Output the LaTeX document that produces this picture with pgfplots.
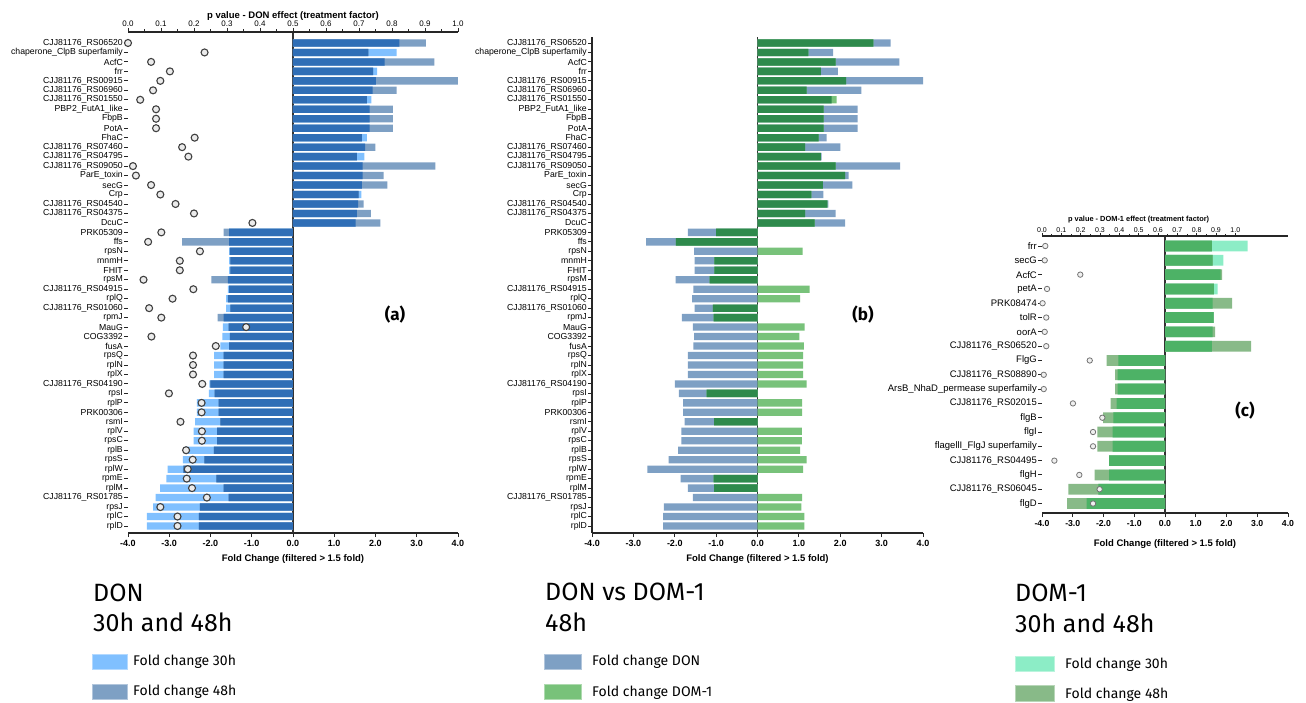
\documentclass[border=0pt]{standalone}
\usepackage{fontspec}
\setmainfont{Liberation Sans}
\newfontfamily\fira{Fira Sans}
\usepackage{pgfplots}
\usepackage{pgfplotstable}
\pgfplotsset{compat=1.18}

\definecolor{a30}{HTML}{80C0FF}
\definecolor{a48}{HTML}{7EA0C4}
\definecolor{aov}{HTML}{2F6EB6}
\definecolor{bdon}{HTML}{7EA0C4}
\definecolor{bdom}{HTML}{78C27A}
\definecolor{bov}{HTML}{2E8A4C}
\definecolor{c30}{HTML}{8CEDC6}
\definecolor{c48}{HTML}{88BA88}
\definecolor{cov}{HTML}{4DB266}

% panel (a): DON, fold change 30h / 48h, common part, p value
\pgfplotstableread{
y  c30   c48   ov    p
51  2.58  3.22  2.58 0.000
50  2.51  1.83  1.83 0.232
49  2.22  3.43  2.22 0.070
48  2.04  1.94  1.94 0.127
47  2.01  4.00  2.01 0.098
46  1.93  2.51  1.93 0.076
45  1.90  1.79  1.79 0.037
44  1.86  2.42  1.86 0.085
43  1.86  2.42  1.86 0.085
42  1.86  2.42  1.86 0.085
41  1.79  1.67  1.67 0.202
40  1.75  2.00  1.75 0.164
39  1.73  1.55  1.55 0.183
38  1.69  3.45  1.69 0.015
37  1.69  2.20  1.69 0.024
36  1.67  2.29  1.67 0.070
35  1.66  1.59  1.59 0.098
34  1.58  1.71  1.58 0.144
33  1.55  1.89  1.55 0.200
32  1.52  2.12  1.52 0.377
31 -1.55 -1.68 -1.55 0.101
30 -1.55 -2.69 -1.55 0.061
29 -1.55 -1.53 -1.53 0.218
28 -1.55 -1.52 -1.52 0.157
27 -1.55 -1.52 -1.52 0.157
26 -1.58 -1.98 -1.58 0.047
25 -1.58 -1.55 -1.55 0.198
24 -1.62 -1.58 -1.58 0.135
23 -1.62 -1.52 -1.52 0.064
22 -1.68 -1.83 -1.68 0.101
21 -1.70 -1.56 -1.56 0.358
20 -1.71 -1.53 -1.53 0.071
19 -1.76 -1.55 -1.55 0.266
18 -1.91 -1.68 -1.68 0.197
17 -1.91 -1.68 -1.68 0.197
16 -1.91 -1.68 -1.68 0.197
15 -2.03 -2.00 -2.00 0.225
14 -2.04 -1.90 -1.90 0.124
13 -2.33 -1.80 -1.80 0.223
12 -2.33 -1.80 -1.80 0.223
11 -2.37 -1.76 -1.76 0.159
10 -2.41 -1.84 -1.84 0.224
9  -2.41 -1.84 -1.84 0.224
8  -2.61 -1.92 -1.92 0.176
7  -2.67 -2.15 -2.15 0.196
6  -3.04 -2.66 -2.66 0.181
5  -3.07 -1.86 -1.86 0.178
4  -3.22 -1.68 -1.68 0.194
3  -3.33 -1.56 -1.56 0.239
2  -3.39 -2.26 -2.26 0.098
1  -3.54 -2.28 -2.28 0.150
0  -3.54 -2.28 -2.28 0.150
}\tabA

% panel (b): DON vs DOM-1 at 48h
\pgfplotstableread{
y  don   dom   ov
51  3.22  2.80  2.80
50  1.83  1.23  1.23
49  3.43  1.89  1.89
48  1.94  1.53  1.53
47  4.00  2.14  2.14
46  2.51  1.19  1.19
45  1.79  1.91  1.79
44  2.42  1.60  1.60
43  2.42  1.60  1.60
42  2.42  1.60  1.60
41  1.67  1.48  1.48
40  2.00  1.15  1.15
39  1.55  1.53  1.53
38  3.45  1.89  1.89
37  2.20  2.12  2.12
36  2.29  1.58  1.58
35  1.59  1.30  1.30
34  1.71  1.69  1.69
33  1.89  1.15  1.15
32  2.12  1.38  1.38
31 -1.68 -1.00 -1.00
30 -2.69 -1.97 -1.97
29 -1.53  1.09  0
28 -1.52 -1.04 -1.04
27 -1.52 -1.04 -1.04
26 -1.98 -1.16 -1.16
25 -1.55  1.26  0
24 -1.58  1.03  0
23 -1.52 -1.08 -1.08
22 -1.83 -1.06 -1.06
21 -1.56  1.14  0
20 -1.53  1.01  0
19 -1.55  1.12  0
18 -1.68  1.10  0
17 -1.68  1.10  0
16 -1.68  1.10  0
15 -2.00  1.19  0
14 -1.90 -1.23 -1.23
13 -1.80  1.08  0
12 -1.80  1.08  0
11 -1.76 -1.05 -1.05
10 -1.84  1.07  0
9  -1.84  1.07  0
8  -1.92  1.03  0
7  -2.15  1.19  0
6  -2.66  1.10  0
5  -1.86 -1.06 -1.06
4  -1.68 -1.05 -1.05
3  -1.56  1.08  0
2  -2.26  1.06  0
1  -2.28  1.13  0
0  -2.28  1.13  0
}\tabB

% panel (c): DOM-1, fold change 30h / 48h, common part, p value
\pgfplotstableread{
y  c30   c48   ov    p
18  2.69  1.52  1.52 0.017
17  1.90  1.55  1.55 0.014
16  1.81  1.86  1.81 0.198
15  1.71  1.59  1.59 0.026
14  1.55  2.18  1.55 0.003
13  1.59  1.58  1.58 0.022
12  1.55  1.63  1.55 0.014
11  1.52  2.80  1.52 0.022
10 -1.52 -1.90 -1.52 0.247
9  -1.54 -1.62 -1.54 0.009
8  -1.54 -1.62 -1.54 0.009
7  -1.57 -1.77 -1.57 0.160
6  -1.68 -2.01 -1.68 0.312
5  -1.70 -2.20 -1.70 0.264
4  -1.70 -2.20 -1.70 0.264
3  -1.82 -1.82 -1.82 0.064
2  -1.82 -2.29 -1.82 0.193
1  -2.17 -3.14 -2.17 0.298
0  -2.55 -3.18 -2.55 0.264
}\tabC

\pgfplotsset{
  genesAB/.style={ytick={0,...,51}, yticklabels={rplD,rplC,rpsJ,CJJ81176\_RS01785,rplM,rpmE,rplW,rpsS,rplB,rpsC,rplV,rsmI,PRK00306,rplP,rpsI,CJJ81176\_RS04190,rplX,rplN,rpsQ,fusA,COG3392,MauG,rpmJ,CJJ81176\_RS01060,rplQ,CJJ81176\_RS04915,rpsM,FHIT,mnmH,rpsN,ffs,PRK05309,DcuC,CJJ81176\_RS04375,CJJ81176\_RS04540,Crp,secG,ParE\_toxin,CJJ81176\_RS09050,CJJ81176\_RS04795,CJJ81176\_RS07460,FhaC,PotA,FbpB,PBP2\_FutA1\_like,CJJ81176\_RS01550,CJJ81176\_RS06960,CJJ81176\_RS00915,frr,AcfC,chaperone\_ClpB superfamily,CJJ81176\_RS06520}},
  barax/.style={scale only axis, anchor=south west, xmin=-4, xmax=4,
    axis x line*=bottom, axis y line*=left,
    xtick={-4,...,4}, xticklabels={-4.0,-3.0,-2.0,-1.0,0.0,1.0,2.0,3.0,4.0},
    tick align=outside, major tick length=4pt, tick style={black!85, line width=0.9pt},
    axis line style={line width=1.3pt, black!85},
    x tick label style={font=\bfseries\fontsize{9}{9}\selectfont},
    y tick label style={inner sep=1pt},
    xlabel={Fold Change (filtered > 1.5 fold)},
    xlabel style={font=\bfseries\fontsize{9.5}{10}\selectfont, inner sep=0pt, anchor=base,
      at={(axis description cs:0.5,0)}, yshift=-28pt},
    extra x ticks={0}, extra x tick labels={},
    extra x tick style={grid=major, major grid style={black!80, line width=1.3pt}},
    clip=false},
  hb/.style={xbar, bar shift=0pt, draw=none, fill=#1},
  pax/.style={scale only axis, anchor=south west, xmin=0,
    axis x line*=top, axis y line=none,
    xtick={0,0.1,0.2,0.3,0.4,0.5,0.6,0.7,0.8,0.9,1},
    xticklabels={0.0,0.1,0.2,0.3,0.4,0.5,0.6,0.7,0.8,0.9,1.0},
    minor x tick num=1,
    tick align=outside, major tick length=4pt, minor tick length=2.5pt,
    tick style={black!85, line width=0.9pt},
    axis line style={line width=1.3pt, black!85},
    xlabel style={font=\bfseries, inner sep=0pt, anchor=base},
    clip=false},
}

\begin{document}
\begin{tikzpicture}
\path[use as bounding box] (0,0) rectangle (1306pt,702pt);

% ---------- panel (a)
\begin{axis}[barax, at={(128pt,169pt)}, width=330pt, height=501pt,
  ymin=-0.74, ymax=52.16, genesAB, y axis line style={draw=none},
  y tick label style={font=\fontsize{8.7}{9}\selectfont}]
  \addplot[hb=a30, bar width=7.3pt] table[x=c30, y=y] {\tabA};
  \addplot[hb=a48, bar width=7.3pt] table[x=c48, y=y] {\tabA};
  \addplot[hb=aov, bar width=7.3pt] table[x=ov, y=y] {\tabA};
\end{axis}
\begin{axis}[pax, at={(128pt,169pt)}, width=330pt, height=501pt,
  xmax=1, ymin=-0.74, ymax=52.16,
  x tick label style={font=\fontsize{8}{8}\selectfont, inner sep=1pt},
  xlabel={p value - DON effect (treatment factor)},
  xlabel style={font=\bfseries\fontsize{9.5}{10}\selectfont, at={(axis description cs:0.5,1)}, yshift=13pt}]
  \addplot[only marks, mark=*, mark size=3.5pt,
    mark options={fill=black!8, draw=black!75, line width=1.1pt}] table[x=p, y=y] {\tabA};
\end{axis}

% ---------- panel (b)
\begin{axis}[barax, at={(592pt,169pt)}, width=331pt, height=496pt,
  ymin=-0.74, ymax=51.63, genesAB,
  y tick label style={font=\fontsize{8.7}{9}\selectfont}]
  \addplot[hb=bdon, bar width=7.3pt] table[x=don, y=y] {\tabB};
  \addplot[hb=bdom, bar width=7.3pt] table[x=dom, y=y] {\tabB};
  \addplot[hb=bov, bar width=7.3pt] table[x=ov, y=y] {\tabB};
\end{axis}

% ---------- panel (c)
\begin{axis}[barax, at={(1042pt,189pt)}, width=246pt, height=277pt,
  ymin=-0.66, ymax=18.70, y axis line style={draw=none},
  ytick={0,...,18},
  yticklabels={flgD,CJJ81176\_RS06045,flgH,CJJ81176\_RS04495,flagellI\_FlgJ superfamily,flgI,flgB,CJJ81176\_RS02015,ArsB\_NhaD\_permease superfamily,CJJ81176\_RS08890,FlgG,CJJ81176\_RS06520,oorA,tolR,PRK08474,petA,AcfC,secG,frr},
  y tick label style={font=\fontsize{9.5}{10}\selectfont},
  x tick label style={font=\bfseries\fontsize{8.7}{9}\selectfont},
  xlabel style={yshift=-5pt}]
  \addplot[hb=c30, bar width=10.7pt] table[x=c30, y=y] {\tabC};
  \addplot[hb=c48, bar width=10.7pt] table[x=c48, y=y] {\tabC};
  \addplot[hb=cov, bar width=10.7pt] table[x=ov, y=y] {\tabC};
\end{axis}
\begin{axis}[pax, at={(1042pt,189pt)}, width=246pt, height=277pt,
  xmax=1.2727, ymin=-0.66, ymax=18.70,
  major tick length=3pt, minor tick length=2pt,
  x tick label style={font=\fontsize{7}{7}\selectfont, inner sep=0.5pt},
  xlabel={p value - DOM-1 effect (treatment factor)},
  xlabel style={font=\bfseries\fontsize{7.4}{8}\selectfont, at={(axis description cs:0.393,1)}, yshift=14pt}]
  \addplot[only marks, mark=*, mark size=2.7pt,
    mark options={fill=black!6, draw=black!55, line width=0.8pt}] table[x=p, y=y] {\tabC};
\end{axis}

% ---------- panel tags
\node[font=\fira\bfseries\fontsize{17}{20}\selectfont] at (395pt,387pt) {(a)};
\node[font=\fira\bfseries\fontsize{17}{20}\selectfont] at (863pt,387pt) {(b)};
\node[font=\fira\bfseries\fontsize{17}{20}\selectfont] at (1245pt,291pt) {(c)};

% ---------- captions and legends
\begin{scope}[every node/.style={anchor=base west, inner sep=0pt}]
\node[font=\fira\fontsize{25}{30}\selectfont] at (93pt,101pt) {DON};
\node[font=\fira\fontsize{25}{30}\selectfont] at (93pt,71pt) {30h and 48h};
\fill[a30, draw=a30!60!white] (92pt,33pt) rectangle (127pt,48pt);
\fill[a48, draw=a48!60!white] (92pt,3pt) rectangle (127pt,18pt);
\node[font=\fira\fontsize{14}{16}\selectfont] at (133pt,37pt) {Fold change 30h};
\node[font=\fira\fontsize{14}{16}\selectfont] at (133pt,7pt) {Fold change 48h};

\node[font=\fira\fontsize{25}{30}\selectfont] at (545pt,102pt) {DON vs DOM-1};
\node[font=\fira\fontsize{25}{30}\selectfont] at (545pt,71pt) {48h};
\fill[bdon, draw=bdon!60!white] (544pt,33pt) rectangle (581pt,48pt);
\fill[bdom, draw=bdom!60!white] (544pt,3pt) rectangle (581pt,18pt);
\node[font=\fira\fontsize{14}{16}\selectfont] at (592pt,37pt) {Fold change DON};
\node[font=\fira\fontsize{14}{16}\selectfont] at (592pt,6pt) {Fold change DOM-1};

\node[font=\fira\fontsize{25}{30}\selectfont] at (1015pt,101pt) {DOM-1};
\node[font=\fira\fontsize{25}{30}\selectfont] at (1015pt,70pt) {30h and 48h};
\fill[c30, draw=c30!60!white] (1015pt,31pt) rectangle (1054pt,46pt);
\fill[c48, draw=c48!60!white] (1015pt,1pt) rectangle (1054pt,17pt);
\node[font=\fira\fontsize{14}{16}\selectfont] at (1065pt,34pt) {Fold change 30h};
\node[font=\fira\fontsize{14}{16}\selectfont] at (1065pt,4pt) {Fold change 48h};
\end{scope}
\end{tikzpicture}
\end{document}
